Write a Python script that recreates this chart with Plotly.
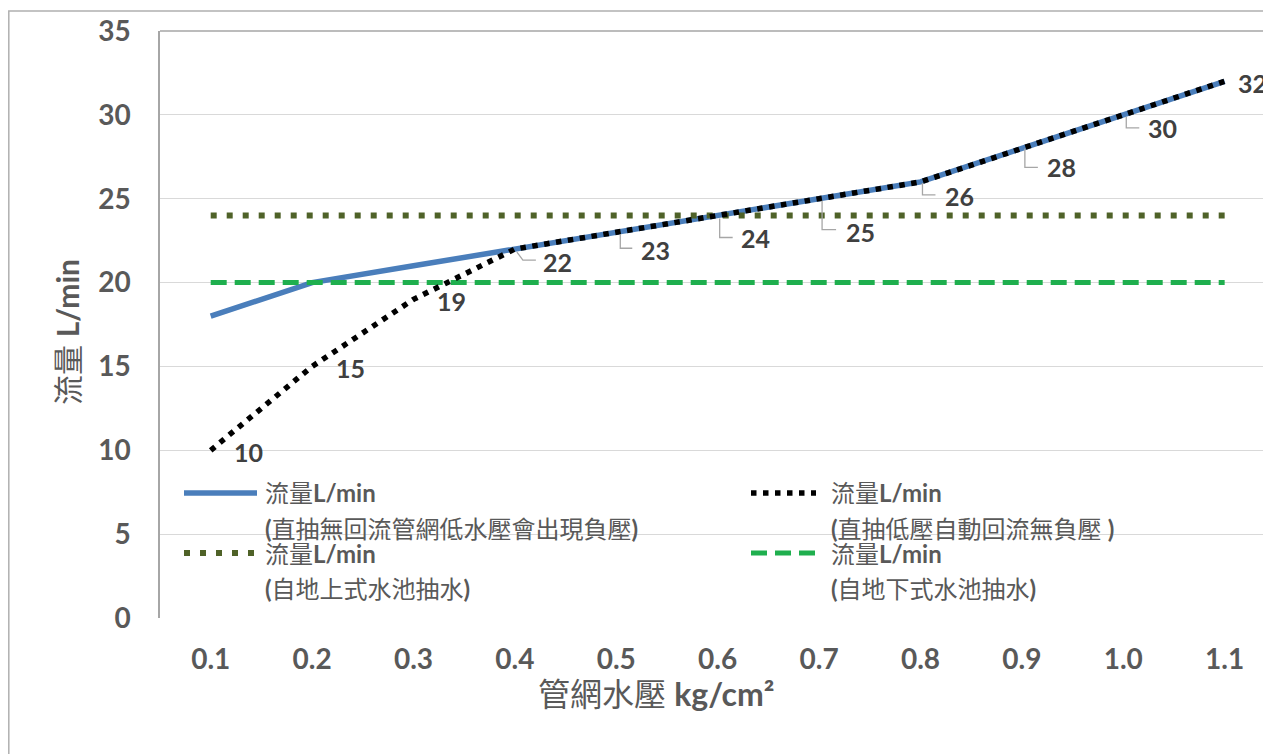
import plotly.graph_objects as go

# ---------------- data ----------------
pressure = ["0.1", "0.2", "0.3", "0.4", "0.5", "0.6", "0.7", "0.8", "0.9", "1.0", "1.1"]
flow_direct = [18, 20, 21, 22, 23, 24, 25, 26, 28, 30, 32]      # 直抽無回流
flow_auto = [10, 15, 19, 22, 23, 24, 25, 26, 28, 30, 32]        # 直抽低壓自動回流
flow_above = [24, 24, 24, 24, 24, 24, 24, 24, 24, 24, 24]       # 地上式水池
flow_below = [20, 20, 20, 20, 20, 20, 20, 20, 20, 20, 20]       # 地下式水池

name_direct = ["流量<b>L/min</b>", "<b>(</b>直抽無回流管網低水壓會出現負壓<b>)</b>"]
name_auto = ["流量<b>L/min</b>", "<b>(</b>直抽低壓自動回流無負壓 <b>)</b>"]
name_above = ["流量<b>L/min</b>", "<b>(</b>自地上式水池抽水<b>)</b>"]
name_below = ["流量<b>L/min</b>", "<b>(</b>自地下式水池抽水<b>)</b>"]

x_title = "管網水壓 <b>kg/cm²</b>"
y_title = "流量 <b>L/min</b>"

# ---------------- styles / layout ----------------
OFF = 8                      # page body margin
W, H = 1263, 746
L, T = 160 - OFF, 31 - OFF   # plot area in figure pixels
PW, PH = 1111, 587
BOTTOM = T + PH

BLUE = "#4A7EBB"
BLACK = "#000000"
OLIVE = "#4F6228"
GREEN = "#1FAF4E"
GRAY_TXT = "#595959"
LABEL_TXT = "#404040"
FONT = "Lato, Noto Sans CJK TC, sans-serif"


def px(x):
    """screen x (reference picture) -> paper fraction"""
    return (x - OFF - L) / PW


def py(y):
    """screen y (reference picture) -> paper fraction"""
    return (BOTTOM - (y - OFF)) / PH


# label offsets (screen px, dx right, dy down) and leader paths
label_layout = [
    (38, 2, None),
    (38, 2, None),
    (38, 2, None),
    (43, 13, [(2, 3), (8, 11), (21, 11)]),
    (39, 18, [(4, 2), (4, 16), (16, 16)]),
    (38, 23, [(2, 3), (2, 22), (15, 22)]),
    (41, 33, [(3, 2), (3, 31), (17, 31)]),
    (39, 14, [(2, 1), (2, 13), (15, 13)]),
    (40, 19, [(3, 0), (3, 19), (16, 19)]),
    (39, 13, [(3, 2), (3, 13), (16, 13)]),
    (28, 2, None),
]

fig = go.Figure()
fig.add_trace(go.Scatter(x=pressure, y=flow_direct, mode="lines",
                         line=dict(color=BLUE, width=5.5), showlegend=False))
fig.add_trace(go.Scatter(x=pressure, y=flow_above, mode="lines",
                         line=dict(color=OLIVE, width=6, dash="6px,10px"), showlegend=False))
fig.add_trace(go.Scatter(x=pressure, y=flow_below, mode="lines",
                         line=dict(color=GREEN, width=5, dash="16px,8px"), showlegend=False))
fig.add_trace(go.Scatter(x=pressure, y=flow_auto, mode="lines",
                         line=dict(color=BLACK, width=5.5, dash="5.5px,6.5px"), showlegend=False))

annotations = []
shapes = []

# data labels + leader lines
for i, yv in enumerate(flow_auto):
    dx, dy, leader = label_layout[i]
    annotations.append(dict(x=i, y=yv, xref="x", yref="y", text=f"<b>{yv}</b>",
                            showarrow=False, xshift=dx, yshift=-dy,
                            font=dict(family=FONT, size=25, color=LABEL_TXT),
                            xanchor="center", yanchor="middle"))
    if leader:
        path = "M " + " L ".join(f"{a},{-b}" for a, b in leader)
        shapes.append(dict(type="path", xref="x", yref="y", xsizemode="pixel",
                           ysizemode="pixel", xanchor=i, yanchor=yv, path=path,
                           line=dict(color="#A6A6A6", width=1.3)))

# custom legend
legend_entries = [
    (name_direct, dict(color=BLUE, width=5.5), 184, 257, 263, 493),
    (name_auto, dict(color=BLACK, width=5.5, dash="5.5px,6.5px"), 751, 816, 829, 493),
    (name_above, dict(color=OLIVE, width=6, dash="6px,10px"), 184, 257, 263, 553),
    (name_below, dict(color=GREEN, width=5, dash="16px,8px"), 751, 816, 829, 553),
]
for lines, lstyle, x0, x1, tx, ty in legend_entries:
    shapes.append(dict(type="line", xref="paper", yref="paper",
                       x0=px(x0), x1=px(x1), y0=py(ty), y1=py(ty), line=lstyle))
    for k, txt in enumerate(lines):
        annotations.append(dict(x=px(tx), y=py(ty + 35 * k), xref="paper", yref="paper",
                                text=txt, showarrow=False, xanchor="left", yanchor="middle",
                                font=dict(family=FONT, size=24, color=GRAY_TXT)))

# axis titles
annotations.append(dict(x=px(656), y=py(693), xref="paper", yref="paper", text=x_title,
                        showarrow=False, xanchor="center", yanchor="middle",
                        font=dict(family=FONT, size=32, color=GRAY_TXT)))
annotations.append(dict(x=px(67), y=py(332), xref="paper", yref="paper", text=y_title,
                        showarrow=False, textangle=-90, xanchor="center", yanchor="middle",
                        font=dict(family=FONT, size=30, color=GRAY_TXT)))

# plot-area top border and chart border
shapes.append(dict(type="line", xref="paper", yref="paper", x0=0, x1=1, y0=1, y1=1,
                   line=dict(color="#A6A6A6", width=1.5)))
shapes.append(dict(type="rect", xref="paper", yref="paper", x0=px(8.8), x1=px(1300),
                   y0=py(800), y1=py(11), line=dict(color="#B0B0B0", width=1.5)))

fig.update_layout(
    width=W, height=H,
    margin=dict(l=L, r=W - L - PW, t=T, b=H - BOTTOM, pad=0),
    paper_bgcolor="white", plot_bgcolor="white",
    showlegend=False,
    annotations=annotations, shapes=shapes,
    xaxis=dict(type="category", range=[-0.5, 10.457], showgrid=False, showline=False,
               zeroline=False, ticks="", ticklabelstandoff=22,
               tickfont=dict(family=FONT, size=28, color=GRAY_TXT, weight="bold")),
    yaxis=dict(range=[0, 35], dtick=5, showgrid=True, gridcolor="#D9D9D9", gridwidth=1.3,
               zeroline=False, showline=True, linecolor="#A6A6A6", linewidth=1.5,
               ticks="", ticklabelstandoff=22,
               tickfont=dict(family=FONT, size=28, color=GRAY_TXT, weight="bold")),
)

fig.write_html("out.html")
